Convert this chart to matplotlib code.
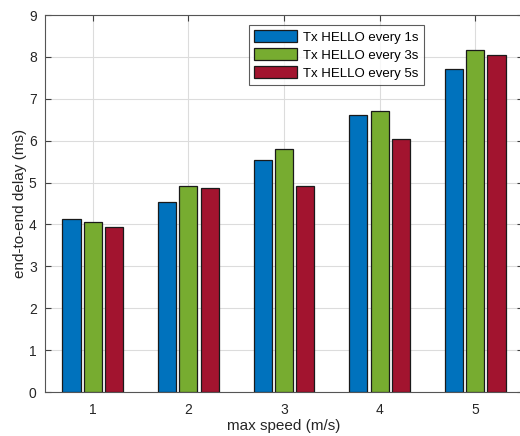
import numpy as np
import matplotlib.pyplot as plt

plt.rcParams['font.family'] = ['Liberation Sans', 'DejaVu Sans']

# data
speeds = [1, 2, 3, 4, 5]
hello_1s = [4.14, 4.54, 5.54, 6.61, 7.72]
hello_3s = [4.06, 4.91, 5.80, 6.72, 8.16]
hello_5s = [3.93, 4.88, 4.91, 6.04, 8.04]
labels = ['Tx HELLO every 1s', 'Tx HELLO every 3s', 'Tx HELLO every 5s']
colors = ['#0072BD', '#77AC30', '#A2142F']

fig = plt.figure(figsize=(5.2, 4.36), dpi=100)
ax = fig.add_axes([45 / 520, 1 - 392 / 436, 478 / 520, 377 / 436])

x = np.array(speeds)
w = 0.19
off = 0.222
for i, (vals, lab, c) in enumerate(zip([hello_1s, hello_3s, hello_5s], labels, colors)):
    ax.bar(x + (i - 1) * off, vals, width=w, color=c, edgecolor='#1a1a1a',
           linewidth=0.9, label=lab, zorder=3)

ax.set_xlim(0.5, 5.5)
ax.set_ylim(0, 9)
ax.set_xticks(speeds)
ax.set_yticks(range(0, 10))
ax.grid(True, color='#dcdcdc', linewidth=0.8, zorder=0)
ax.tick_params(direction='in', top=True, right=True, length=4, width=0.8,
               colors='#404040', labelsize=10, labelcolor='#262626')
ax.tick_params(axis='x', pad=8)
ax.tick_params(axis='y', pad=6)
for s in ax.spines.values():
    s.set_color('#555555')
    s.set_linewidth(0.8)

ax.set_xlabel('max speed (m/s)', fontsize=11, color='#262626', labelpad=1.5)
ax.set_ylabel('end-to-end delay (ms)', fontsize=11, color='#262626', labelpad=1)

leg = ax.legend(loc='upper left', bbox_to_anchor=(204 / 478, 1 - 10 / 377),
                fontsize=9.5, frameon=True, fancybox=False, edgecolor='#333333',
                handlelength=3.2, handleheight=1.0, handletextpad=0.5,
                labelspacing=0.35, borderpad=0.4, borderaxespad=0)
leg.get_frame().set_linewidth(0.8)

fig.savefig('out.png', dpi=100)
